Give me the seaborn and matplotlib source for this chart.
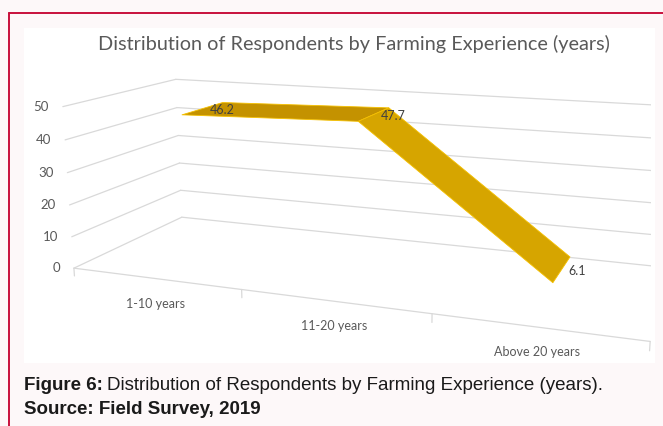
import numpy as np
import matplotlib
matplotlib.use("Agg")
import matplotlib.pyplot as plt
import seaborn as sns
from matplotlib.lines import Line2D
from matplotlib.patches import Rectangle
from mpl_toolkits.mplot3d import proj3d
from mpl_toolkits.mplot3d.art3d import Poly3DCollection

# Data
categories = ["1-10 years", "11-20 years", "Above 20 years"]
percent = [46.2, 47.7, 6.1]
value_ticks = [0, 10, 20, 30, 40, 50]

sns.set_theme(style="white")
plt.rcParams["font.family"] = ["Lato", "DejaVu Sans"]

W, H = 663, 426
fig = plt.figure(figsize=(W / 100, H / 100), dpi=100)
fig.patch.set_facecolor("#fdf8f9")


def fx(px):
    return px / W


def fy(py):
    return 1 - py / H


# page frame
border = "#c8103c"
fig.add_artist(Line2D([fx(8.5), fx(8.5)], [fy(12.5), 0], color=border, lw=1.4, zorder=-2))
fig.add_artist(Line2D([fx(8.5), 1], [fy(12.5), fy(12.5)], color=border, lw=1.4, zorder=-2))

# white chart area
chart_bg = Rectangle((fx(24), fy(363)), fx(655) - fx(24), fy(28) - fy(363),
                     transform=fig.transFigure, facecolor="white", edgecolor="none", zorder=-1)
fig.add_artist(chart_bg)
clip_rect = Rectangle((fx(24), fy(363)), fx(651) - fx(24), fy(28) - fy(363),
                      transform=fig.transFigure, facecolor="none", edgecolor="none")

# 3D plot area
cx, cy, side = 366, 197, 600
ax = fig.add_axes([fx(cx - side / 2), fy(cy + side / 2), side / W, side / H],
                  projection="3d", computed_zorder=False)
ax.patch.set_alpha(0)
ax.set_proj_type("persp", focal_length=0.33)
ax.view_init(elev=13.5, azim=-69.5)
ax.set_box_aspect((3, 1.12, 0.87), zoom=1.025)
n = len(categories)
ax.set_xlim(0, n)
ax.set_ylim(0, 1)
ax.set_zlim(0, max(value_ticks))
ax.set_axis_off()

grid_kw = dict(color="#d9d9d9", lw=0.9, zorder=1)
lines = []
for v in value_ticks:
    lines += ax.plot([0, 0], [0, 1], [v, v], **grid_kw)      # side wall
    lines += ax.plot([0, n], [1, 1], [v, v], **grid_kw)      # back wall
lines += ax.plot([0, n], [0, 0], [0, 0], **grid_kw)          # front floor edge
for k in range(n + 1):
    lines += ax.plot([k, k], [0, 0], [0, -2.5], **grid_kw)   # category tick marks
for ln in lines:
    ln.set_clip_path(clip_rect)

# ribbon
xs = np.arange(n) + 0.5
d0, d1 = 0.3, 0.7
faces = []
for i in range(n - 1):
    faces.append([(xs[i], d0, percent[i]), (xs[i], d1, percent[i]),
                  (xs[i + 1], d1, percent[i + 1]), (xs[i + 1], d0, percent[i + 1])])
ribbon = Poly3DCollection(faces, facecolors=["#c49200", "#d6a500"],
                          edgecolors="#f5c000", linewidths=0.6, zorder=3)
ax.add_collection3d(ribbon)

M = ax.get_proj()


def to2d(x, y, z):
    X, Y, _ = proj3d.proj_transform(x, y, z, M)
    return X, Y


tick_color = "#595959"
for v in value_ticks:
    ax.annotate(str(v), to2d(0, 0, v), xytext=(-10, 0), textcoords="offset points",
                ha="right", va="center", fontsize=9.5, color=tick_color, annotation_clip=False)
for i, c in enumerate(categories):
    ax.annotate(c, to2d(xs[i], 0, 0), xytext=(0, -18), textcoords="offset points",
                ha="center", va="center", fontsize=9, color=tick_color, annotation_clip=False)
for i, v in enumerate(percent):
    ax.annotate(f"{v:.1f}", to2d(xs[i], 0.5, v), xytext=(5, -1), textcoords="offset points",
                ha="left", va="center", fontsize=9, color="#404040", annotation_clip=False,
                zorder=5)

fig.text(fx(354), fy(44), "Distribution of Respondents by Farming Experience (years)",
         ha="center", va="center", fontsize=14.3, color="#595959")

# caption
cap_font = ["Liberation Sans", "DejaVu Sans"]
cap_size = 13.5
t1 = fig.text(fx(24), fy(386), "Figure 6:", ha="left", va="center", fontsize=cap_size,
              fontweight="bold", family=cap_font, color="#1a1a1a")
renderer = fig.canvas.get_renderer()
bb = t1.get_window_extent(renderer)
fig.text(bb.x1 / W + fx(4), fy(386),
         "Distribution of Respondents by Farming Experience (years).",
         ha="left", va="center", fontsize=cap_size, family=cap_font, color="#1a1a1a")
fig.text(fx(24), fy(409), "Source: Field Survey, 2019", ha="left", va="center",
         fontsize=cap_size, fontweight="bold", family=cap_font, color="#1a1a1a")

fig.savefig("out.png", dpi=100, facecolor=fig.get_facecolor())
